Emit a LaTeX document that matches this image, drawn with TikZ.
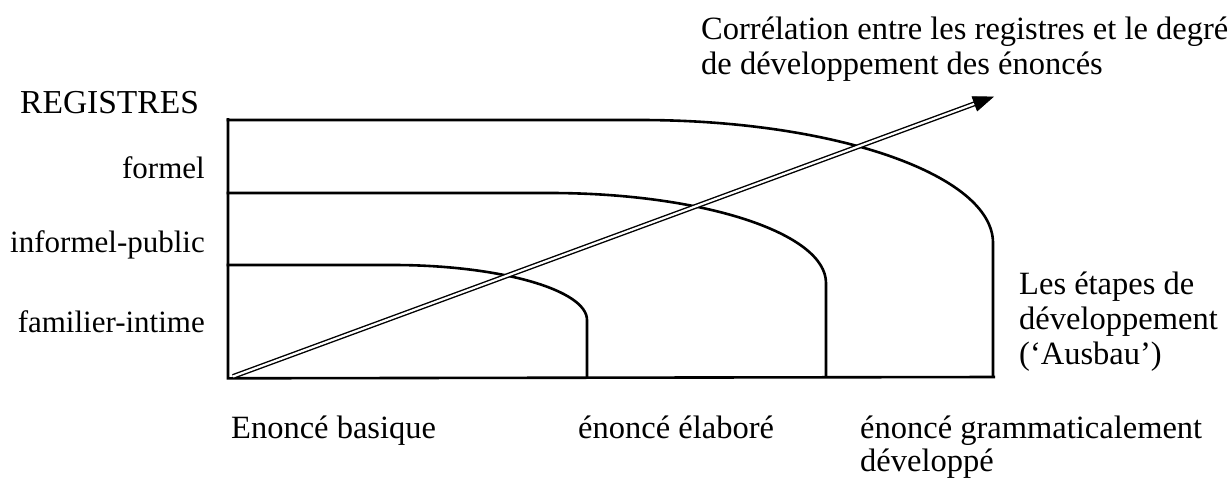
\documentclass[tikz,border=0pt]{standalone}
\usepackage{fontspec}
\setmainfont{Liberation Serif}
\usetikzlibrary{arrows.meta}
\begin{document}
\begin{tikzpicture}[x=1pt,y=-1pt,
  lbl/.style={inner sep=0pt,font=\fontsize{32.5}{35}\selectfont},
  slbl/.style={inner sep=0pt,font=\fontsize{31}{35}\selectfont},
  axis/.style={line width=2.6pt},
  curve/.style={line width=2.6pt}]
\useasboundingbox (0,0) rectangle (1231,477);
% axes
\coordinate (O) at (228,377);
\coordinate (Ytop) at (228,118);
\coordinate (Xend) at (995,377);
\draw[axis] (Ytop) -- (228,378.3) -- (Xend);
% curves
\draw[curve] (226.7,265) -- (393,265) .. controls (500,265) and (587,290) .. (587,320) -- (587,377);
\draw[curve] (226.7,193) -- (550,193) .. controls (702,193) and (826,233) .. (826,283) -- (826,377);
\draw[curve] (226.7,120) -- (640,120) .. controls (835,120) and (993,175) .. (993,243) -- (993,377);
% arrow
\coordinate (As) at (233,376.5);
\coordinate (Am) at (978,102.5);
\coordinate (At) at (994,96.6);
\draw[line width=1.4pt, double distance=2.2pt] (As) -- (Am);
\draw[line width=0.8pt, -{Triangle[length=21pt,width=16pt]}] (Am) -- (At);
% labels
\node[lbl,anchor=base west] (t1) at (701,39) {Corrélation entre les registres et le degré};
\node[lbl,anchor=base west] (t2) at (701,74) {de développement des énoncés};
\node[lbl,anchor=base west,font=\fontsize{33.5}{35}\selectfont] (reg) at (20,113) {REGISTRES};
\node[slbl,anchor=base east] (f) at (205,178) {formel};
\node[slbl,anchor=base east] (ip) at (205,252) {informel-public};
\node[slbl,anchor=base east] (fi) at (205,332) {familier-intime};
\node[lbl,anchor=base west] (e1) at (1019,294) {Les étapes de};
\node[lbl,anchor=base west] (e2) at (1019,329) {développement};
\node[lbl,anchor=base west] (e3) at (1019,364) {(‘Ausbau’)};
\node[lbl,anchor=base west] (b1) at (231,438) {Enoncé basique};
\node[lbl,anchor=base west] (b2) at (578,438) {énoncé élaboré};
\node[lbl,anchor=base west] (b3) at (860,438) {énoncé grammaticalement};
\node[lbl,anchor=base west] (b4) at (860,471) {développé};
\end{tikzpicture}
\end{document}
